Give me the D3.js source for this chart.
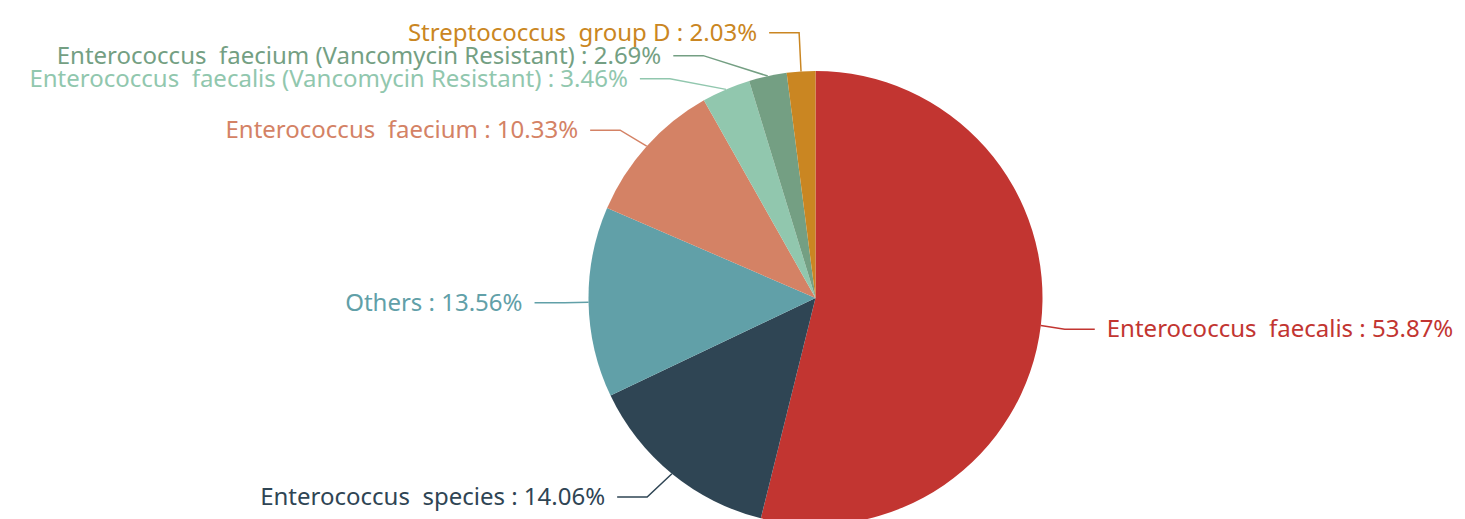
<!DOCTYPE html>
<html>
<head>
<meta charset="utf-8">
<script src="https://cdn.jsdelivr.net/npm/d3@7"></script>
<style>
  html, body { margin: 0; padding: 0; background: #fff; }
  #chart text { font-family: "Noto Sans", sans-serif; font-size: 24px; white-space: pre; }
</style>
</head>
<body>
<div id="chart"></div>
<script>
// Pie data
const categories = [
    'Enterococcus  faecalis',
    'Enterococcus  species',
    'Others',
    'Enterococcus  faecium',
    'Enterococcus  faecalis (Vancomycin Resistant)',
    'Enterococcus  faecium (Vancomycin Resistant)',
    'Streptococcus  group D'
];
const values = [53.87, 14.06, 13.56, 10.33, 3.46, 2.69, 2.03];
const colors = ['#c23531', '#2f4554', '#61a0a8', '#d48265', '#91c7ae', '#749f83', '#ca8622'];

const width = 1465, height = 519;
const cx = 815.5, cy = 298, r = 227;
const len1 = 30, len2 = 30, labelH = 23, gap = 12, reach = r + 54;

const svg = d3.select('#chart')
    .append('svg')
    .attr('width', width)
    .attr('height', height);

const total = d3.sum(values);
const pie = d3.pie().sort(null).value(d => d.value);
const arcs = pie(categories.map((c, i) => ({ name: c, value: values[i], color: colors[i] })));
const arc = d3.arc().innerRadius(0).outerRadius(r);

const g = svg.append('g').attr('transform', `translate(${cx},${cy})`);
g.selectAll('path')
    .data(arcs)
    .enter()
    .append('path')
    .attr('d', arc)
    .attr('fill', d => d.data.color);

// Natural label positions (echarts style)
const labels = arcs.map(d => {
    const a = (d.startAngle + d.endAngle) / 2;
    const dx = Math.sin(a), dy = -Math.cos(a);
    const x1 = cx + r * dx, y1 = cy + r * dy;
    const x2 = x1 + dx * len1, y2 = y1 + dy * len1;
    const dir = dx < 0 ? -1 : 1;
    return { d: d, x: x2 + dir * len2, y: y2, height: labelH, dir: dir, p1: [x1, y1] };
});

// Overlap avoidance, one side at a time
function adjustSide(list, dir) {
    list.sort((a, b) => a.y - b.y);
    function shiftDown(start, end, delta) {
        for (let j = start; j < end; j++) {
            if (list[j].y + delta > height) break;
            list[j].y += delta;
            if (j > start && j + 1 < end && list[j + 1].y > list[j].y + list[j].height) {
                shiftUp(j, delta / 2);
                return;
            }
        }
        shiftUp(end - 1, delta / 2);
    }
    function shiftUp(end, delta) {
        for (let j = end; j >= 0; j--) {
            if (list[j].y - delta < 0) break;
            list[j].y -= delta;
            if (j > 0 && list[j].y > list[j - 1].y + list[j - 1].height) break;
        }
    }
    function changeX(sub, isDown) {
        let lastDeltaX = isDown ? Number.MAX_VALUE : 0;
        sub.forEach(l => {
            const deltaY = Math.abs(l.y - cy);
            let deltaX = deltaY < r + len1
                ? Math.sqrt(reach * reach - deltaY * deltaY)
                : Math.abs(l.x - cx);
            if (isDown && deltaX >= lastDeltaX) deltaX = lastDeltaX - 10;
            if (!isDown && deltaX <= lastDeltaX) deltaX = lastDeltaX + 10;
            l.x = cx + deltaX * dir;
            lastDeltaX = deltaX;
        });
    }
    let lastY = 0;
    for (let i = 0; i < list.length; i++) {
        const delta = list[i].y - lastY;
        if (delta < 0) shiftDown(i, list.length, -delta);
        lastY = list[i].y + list[i].height;
    }
    changeX(list.filter(l => l.y < cy), false);
    changeX(list.filter(l => l.y >= cy), true);
}

adjustSide(labels.filter(l => l.dir < 0), -1);
adjustSide(labels.filter(l => l.dir > 0), 1);

// Label lines
svg.append('g')
    .selectAll('polyline')
    .data(labels)
    .enter()
    .append('polyline')
    .attr('fill', 'none')
    .attr('stroke', l => l.d.data.color)
    .attr('stroke-width', 1.5)
    .attr('points', l => {
        const elbowX = l.x - l.dir * len2;
        return [l.p1, [elbowX, l.y], [l.x, l.y]].map(p => p.join(',')).join(' ');
    });

// Label texts
svg.append('g')
    .selectAll('text')
    .data(labels)
    .enter()
    .append('text')
    .attr('x', l => l.x + l.dir * gap)
    .attr('y', l => l.y)
    .attr('dy', '0.33em')
    .attr('text-anchor', l => l.dir < 0 ? 'end' : 'start')
    .attr('fill', l => l.d.data.color)
    .text(l => `${l.d.data.name} : ${(l.d.value / total * 100).toFixed(2)}%`);
</script>
</body>
</html>
